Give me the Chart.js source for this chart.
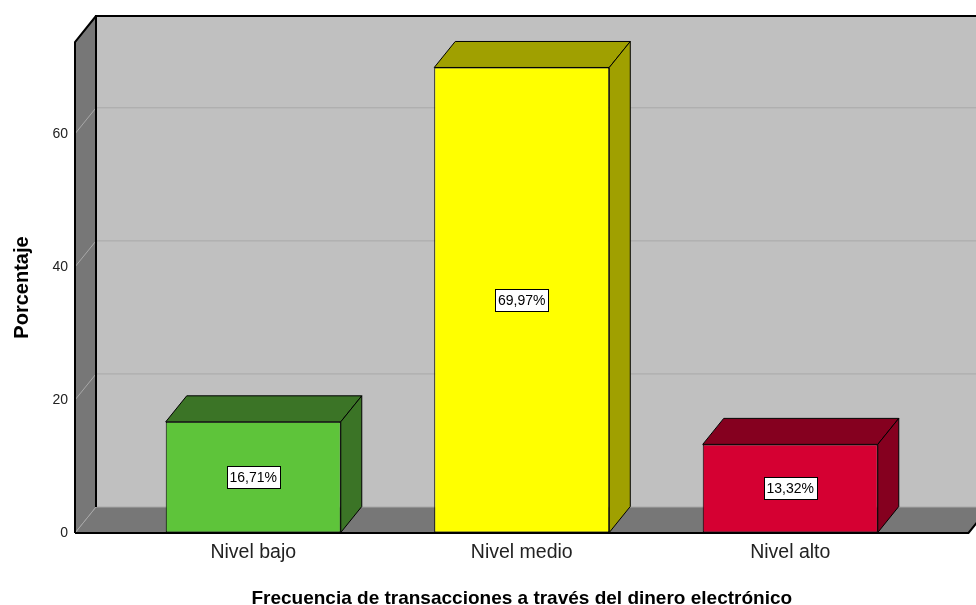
<!DOCTYPE html>
<html lang="es">

<head>
    <meta charset="UTF-8" />
    <title>Frecuencia de transacciones</title>
    <script src="https://cdn.jsdelivr.net/npm/chart.js@4.4.1/dist/chart.umd.min.js"></script>
    <style>
        html, body { margin: 0; padding: 0; background: #ffffff; }
        canvas { display: block; }
    </style>
</head>

<body>
    <canvas id="barChart" width="976" height="605"></canvas>

    <script>
        // Datos
        const categorias = ['Nivel bajo', 'Nivel medio', 'Nivel alto'];
        const porcentajes = [16.71, 69.97, 13.32];
        const ticksY = [0, 20, 40, 60];

        // Colores de las barras (frente y caras laterales)
        const coloresFrente = ['#5ec43a', '#ffff00', '#d50032'];
        const coloresLado = ['#3b7426', '#a0a000', '#85001f'];

        // profundidad del efecto 3D
        const dx = 21, dy = -26;
        const extPared = 44;

        function poly(ctx, pts, fill, stroke, lw) {
            ctx.beginPath();
            ctx.moveTo(pts[0][0], pts[0][1]);
            for (let i = 1; i < pts.length; i++) ctx.lineTo(pts[i][0], pts[i][1]);
            ctx.closePath();
            if (fill) { ctx.fillStyle = fill; ctx.fill(); }
            if (stroke) { ctx.strokeStyle = stroke; ctx.lineWidth = lw || 1; ctx.stroke(); }
        }

        function line(ctx, pts, color, lw) {
            ctx.beginPath();
            ctx.moveTo(pts[0][0], pts[0][1]);
            for (let i = 1; i < pts.length; i++) ctx.lineTo(pts[i][0], pts[i][1]);
            ctx.strokeStyle = color;
            ctx.lineWidth = lw;
            ctx.stroke();
        }

        const caja3D = {
            id: 'caja3D',
            beforeDatasetsDraw(chart) {
                const { ctx, chartArea: a, scales: { y } } = chart;
                const L = a.left - extPared, R = a.right + extPared, T = a.top, B = a.bottom;
                ctx.save();
                // pared del fondo
                ctx.fillStyle = '#c0c0c0';
                ctx.fillRect(L + dx, T + dy, R - L, B - T);
                // pared izquierda y piso
                poly(ctx, [[L, T], [L + dx, T + dy], [L + dx, B + dy], [L, B]], '#777777');
                poly(ctx, [[L, B], [L + dx, B + dy], [R + dx, B + dy], [R, B]], '#777777');
                // lineas de cuadricula
                ticksY.forEach(v => {
                    const p = y.getPixelForValue(v);
                    line(ctx, [[L, p], [L + dx, p + dy], [R + dx, p + dy]], '#a8a8a8', 1);
                });
                // bordes
                line(ctx, [[L + dx, B + dy], [L + dx, T + dy], [R + dx, T + dy]], '#000000', 2);
                line(ctx, [[L, B], [L, T], [L + dx, T + dy]], '#000000', 2);
                line(ctx, [[L, B], [R, B], [R + dx, B + dy]], '#000000', 2);
                ctx.restore();
            },
            afterDatasetsDraw(chart) {
                const { ctx } = chart;
                const meta = chart.getDatasetMeta(0);
                ctx.save();
                ctx.lineJoin = 'miter';
                meta.data.forEach((bar, i) => {
                    const { x, y, base, width } = bar.getProps(['x', 'y', 'base', 'width'], true);
                    const l = x - width / 2, r = x + width / 2;
                    poly(ctx, [[l, y], [l + dx, y + dy], [r + dx, y + dy], [r, y]], coloresLado[i], '#000000', 1);
                    poly(ctx, [[r, y], [r + dx, y + dy], [r + dx, base + dy], [r, base]], coloresLado[i], '#000000', 1);

                    // etiqueta
                    const txt = porcentajes[i].toFixed(2).replace('.', ',') + '%';
                    ctx.font = '14px "Liberation Sans", Arial, sans-serif';
                    const w = ctx.measureText(txt).width + 6;
                    const h = 22;
                    const cy = (y + base) / 2;
                    ctx.fillStyle = '#ffffff';
                    ctx.fillRect(Math.round(x - w / 2) + 0.5, Math.round(cy - h / 2) + 0.5, Math.round(w), h);
                    ctx.strokeStyle = '#000000';
                    ctx.lineWidth = 1;
                    ctx.strokeRect(Math.round(x - w / 2) + 0.5, Math.round(cy - h / 2) + 0.5, Math.round(w), h);
                    ctx.fillStyle = '#000000';
                    ctx.textAlign = 'center';
                    ctx.textBaseline = 'middle';
                    ctx.fillText(txt, x, cy + 1);
                });
                ctx.restore();
            }
        };

        document.addEventListener('DOMContentLoaded', function () {
            const ctx = document.getElementById('barChart').getContext('2d');
            new Chart(ctx, {
                type: 'bar',
                data: {
                    labels: categorias,
                    datasets: [{
                        label: 'Porcentaje',
                        data: porcentajes,
                        backgroundColor: coloresFrente,
                        borderColor: '#000000',
                        borderWidth: 1,
                        borderSkipped: false,
                        categoryPercentage: 1,
                        barPercentage: 0.652
                    }]
                },
                options: {
                    responsive: false,
                    animation: false,
                    layout: { padding: { top: 42, right: 51.5, bottom: 0, left: 0 } },
                    plugins: {
                        legend: { display: false },
                        tooltip: { enabled: false }
                    },
                    scales: {
                        x: {
                            grid: { display: false, drawTicks: false },
                            border: { display: false },
                            ticks: {
                                color: '#222222',
                                padding: 8,
                                font: { family: '"Liberation Sans", Arial, sans-serif', size: 19.5 }
                            },
                            title: {
                                display: true,
                                text: 'Frecuencia de transacciones a través del dinero electrónico',
                                color: '#000000',
                                padding: { top: 0, bottom: -5 },
                                font: { family: '"Liberation Sans", Arial, sans-serif', size: 19, weight: 'bold' }
                            },
                            afterFit: s => { s.height = 72; }
                        },
                        y: {
                            min: 0,
                            max: 73.8,
                            // marcas invisibles para separar las etiquetas de la pared
                            grid: { display: true, color: 'rgba(0,0,0,0)', drawOnChartArea: false, drawTicks: true, tickLength: 44 },
                            border: { display: false },
                            afterBuildTicks: s => { s.ticks = ticksY.map(v => ({ value: v })); },
                            ticks: {
                                color: '#222222',
                                padding: 7,
                                font: { family: '"Liberation Sans", Arial, sans-serif', size: 14 }
                            },
                            title: {
                                display: true,
                                text: 'Porcentaje',
                                color: '#000000',
                                padding: { top: 10, bottom: 0 },
                                font: { family: '"Liberation Sans", Arial, sans-serif', size: 20, weight: 'bold' }
                            },
                            afterFit: s => { s.width = 119; }
                        }
                    }
                },
                plugins: [caja3D]
            });
        });
    </script>
</body>

</html>
